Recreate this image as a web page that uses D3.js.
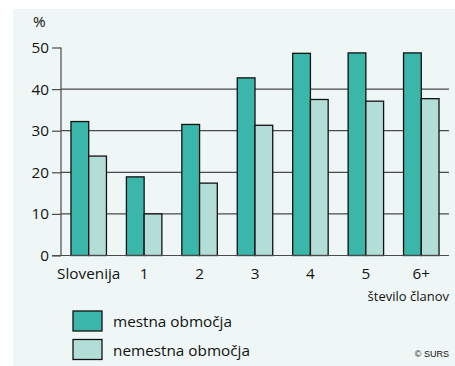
<!DOCTYPE html>
<html><head><meta charset="utf-8">
<script src="https://cdn.jsdelivr.net/npm/d3@7"></script>
<style>body{margin:0;background:#fff}svg{display:block}</style>
</head><body>
<svg id="c" width="455" height="366"></svg>
<script>
const categories = ["Slovenija","1","2","3","4","5","6+"];
const seriesNames = ["mestna območja","nemestna območja"];
const mestna = [32.2, 18.9, 31.5, 42.7, 48.6, 48.7, 48.7];
const nemestna = [23.9, 10.0, 17.4, 31.3, 37.5, 37.1, 37.7];
const yTicks = [0,10,20,30,40,50];
const colors = ["#3ab6aa","#b3ddd7"];

const svg = d3.select("#c");
const font = "'Open Sans', 'Noto Sans', sans-serif";
const fs = 15.3;
svg.append("rect").attr("x",13).attr("y",9).attr("width",442).attr("height",357).attr("fill","#eff7f6");

const x = d3.scaleBand().domain(categories).range([61,449]).paddingInner(0.36).paddingOuter(0.18);
const xs = d3.scaleBand().domain([0,1]).range([0,x.bandwidth()]);
const y = d3.scaleLinear().domain([0,50]).range([255.5,47.5]);

// gridlines
svg.append("g").selectAll("line").data(yTicks.filter(t=>t>0&&t<50)).join("line")
  .attr("x1",61).attr("x2",449).attr("y1",d=>y(d)).attr("y2",d=>y(d))
  .attr("stroke","#4a4a4a").attr("stroke-width",1.2);

// y axis
const yAxis = svg.append("g").attr("transform","translate(61,0)")
  .call(d3.axisLeft(y).tickValues(yTicks).tickSize(9).tickPadding(3));
yAxis.select(".domain").attr("stroke","#4a4a4a").attr("stroke-width",1.2).attr("d","M0,"+y(50)+"V"+y(0));
yAxis.selectAll(".tick line").attr("stroke","#4a4a4a").attr("stroke-width",1.2);
yAxis.selectAll("text").attr("font-family",font).attr("font-size",fs).attr("fill","#111");

// bars
const data = categories.map((c,i)=>({c, v:[mestna[i],nemestna[i]]}));
const g = svg.append("g").selectAll("g").data(data).join("g").attr("transform",d=>`translate(${x(d.c)},0)`);
g.selectAll("rect").data(d=>d.v.map((v,k)=>({v,k}))).join("rect")
  .attr("x",d=>xs(d.k)).attr("width",xs.bandwidth())
  .attr("y",d=>y(d.v)).attr("height",d=>y(0)-y(d.v))
  .attr("fill",d=>colors[d.k]).attr("stroke","#111").attr("stroke-width",1.3);

// x axis
const xAxis = svg.append("g").attr("transform",`translate(0,${y(0)})`)
  .call(d3.axisBottom(x).tickSize(0).tickPadding(12.5));
xAxis.select(".domain").attr("stroke","#4a4a4a").attr("stroke-width",1.2).attr("d","M52,0H449");
xAxis.selectAll("text").attr("font-family",font).attr("font-size",fs).attr("fill","#111");

svg.append("text").attr("x",33).attr("y",27).text("%").attr("font-family",font).attr("font-size",fs).attr("fill","#111");
svg.append("text").attr("x",449).attr("y",301).attr("text-anchor","end").text("število članov")
  .attr("font-family",font).attr("font-size",13).attr("fill","#111");

// legend
const lg = svg.append("g").selectAll("g").data(seriesNames).join("g")
  .attr("transform",(d,i)=>`translate(73,${311+i*28.5})`);
lg.append("rect").attr("width",29).attr("height",20).attr("fill",(d,i)=>colors[i]).attr("stroke","#111").attr("stroke-width",1.3);
lg.append("text").attr("x",40).attr("y",16).text(d=>d).attr("font-family",font).attr("font-size",fs).attr("fill","#111");

svg.append("text").attr("x",449).attr("y",357).attr("text-anchor","end").text("© SURS")
  .attr("font-family","'Liberation Sans', Arial, sans-serif").attr("font-size",9).attr("fill","#111");
</script>
</body></html>
